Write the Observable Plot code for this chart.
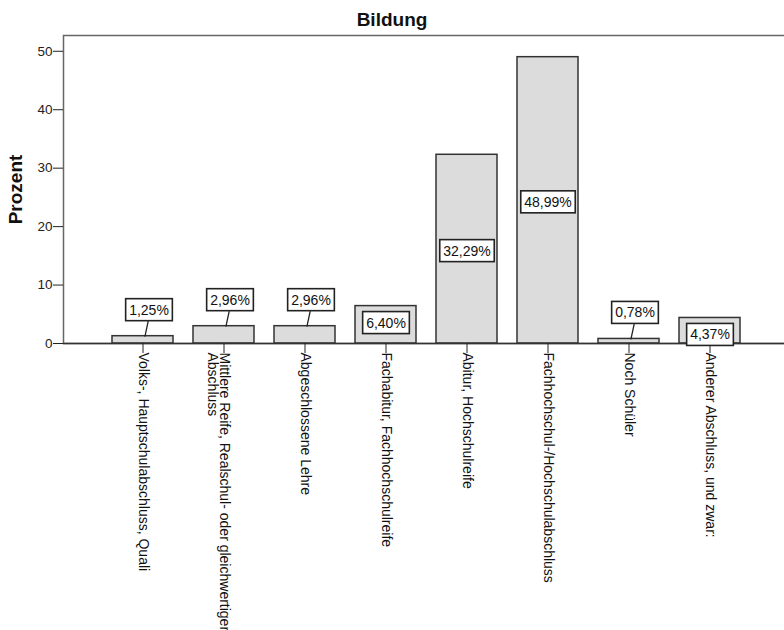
<!DOCTYPE html>
<html><head><meta charset="utf-8">
<script src="https://cdn.jsdelivr.net/npm/d3@7"></script>
<script src="https://cdn.jsdelivr.net/npm/@observablehq/plot@0.6"></script>
<style>
body{margin:0;background:#fff;font-family:"Liberation Sans",Arial,sans-serif;}
#title{width:784px;height:33px;box-sizing:border-box;padding-top:10px;font-size:19px;font-weight:bold;line-height:1;text-align:center;color:#111;}
</style></head><body>
<div id="title"></div>
<div id="chart"></div>
<script>
const chartTitle = "Bildung";
const yTitle = "Prozent";
const categories = [
  "Volks-, Hauptschulabschluss, Quali",
  "Mittlere Reife, Realschul- oder gleichwertiger Abschluss",
  "Abgeschlossene Lehre",
  "Fachabitur, Fachhochschulreife",
  "Abitur, Hochschulreife",
  "Fachhochschul-/Hochschulabschluss",
  "Noch Schüler",
  "Anderer Abschluss, und zwar:"
];
const percents = [1.25, 2.96, 2.96, 6.40, 32.29, 48.99, 0.78, 4.37];
const yTicks = [0, 10, 20, 30, 40, 50];

document.getElementById("title").textContent = chartTitle;

function wrap(s, max = 46) {
  const words = s.split(" ");
  const lines = [];
  let cur = "";
  for (const w of words) {
    if (cur && (cur + " " + w).length > max) { lines.push(cur); cur = w; }
    else cur = cur ? cur + " " + w : w;
  }
  lines.push(cur);
  return lines;
}

const data = categories.map((c, i) => ({
  cat: c,
  val: percents[i],
  label: percents[i].toFixed(2).replace(".", ",") + "%",
  lines: wrap(c)
}));
const large = data.filter(d => d.val >= 10);
const mid = data.filter(d => d.val >= 4 && d.val < 10);
const small = data.filter(d => d.val < 4);
const multi = data.filter(d => d.lines.length > 1);
const labelSet = new Set(data.map(d => d.label));

const font = "'Liberation Sans', Arial, sans-serif";
const leader = {draw(ctx, l) { ctx.moveTo(0, 0); ctx.lineTo(0, -l); }};

const svg = Plot.plot({
  width: 784,
  height: 597,
  marginTop: 2,
  marginLeft: 63,
  marginRight: 0,
  marginBottom: 287,
  style: {fontFamily: font, fontSize: "14px", color: "#222", background: "white"},
  x: {domain: categories, paddingInner: 0.25, paddingOuter: 0.54, align: 0.53},
  y: {domain: [0, 52.7]},
  marks: [
    Plot.frame({stroke: "#666", strokeWidth: 1.5, insetRight: -4}),
    Plot.barY(data, {x: "cat", y: "val", fill: "#dcdcdc", stroke: "#333", strokeWidth: 1.5}),
    Plot.ruleY([0], {stroke: "#333", strokeWidth: 1.5}),
    Plot.axisY({ticks: yTicks, tickSize: 10, tickPadding: 1, fontSize: 13.5, label: null}),
    Plot.axisX({tickSize: 10, tickFormat: () => "", label: null}),
    Plot.text(data, {x: "cat", frameAnchor: "bottom", text: d => d.lines[0], rotate: 90,
      textAnchor: "start", lineAnchor: "middle", dy: 9, fontSize: 14, fill: "#111"}),
    Plot.text(multi, {x: "cat", frameAnchor: "bottom", text: d => d.lines.slice(1).join("\n"), rotate: 90,
      textAnchor: "start", lineAnchor: "middle", dy: 9, dx: -12, fontSize: 14, fill: "#111"}),
    Plot.text([yTitle], {frameAnchor: "left", text: d => d, rotate: -90, dx: -47.5,
      textAnchor: "middle", lineAnchor: "middle", fontSize: 19, fontWeight: "bold", fill: "#111"}),
    Plot.vector(small, {x: "cat", y: "val", length: 15, rotate: 12, anchor: "start", dx: 2,
      shape: leader, stroke: "#222", strokeWidth: 1.3}),
    Plot.text(large, {x: "cat", y: d => d.val / 2, text: "label", dy: 2, fontSize: 14, fill: "#111"}),
    Plot.text(mid, {x: "cat", y: "val", text: "label", dy: 17, fontSize: 14, fill: "#111"}),
    Plot.text(small, {x: "cat", y: "val", text: "label", dy: -26, dx: 6, fontSize: 14, fill: "#111"})
  ]
});
document.getElementById("chart").append(svg);

svg.querySelectorAll("text").forEach(t => {
  if (!labelSet.has(t.textContent)) return;
  const b = t.getBBox();
  const r = document.createElementNS("http://www.w3.org/2000/svg", "rect");
  r.setAttribute("x", b.x - 3.5);
  r.setAttribute("y", b.y - 3);
  r.setAttribute("width", b.width + 7);
  r.setAttribute("height", b.height + 6);
  r.setAttribute("fill", "white");
  r.setAttribute("stroke", "#222");
  r.setAttribute("stroke-width", 1.6);
  const tr = t.getAttribute("transform");
  if (tr) r.setAttribute("transform", tr);
  t.parentNode.insertBefore(r, t);
});
</script>
</body></html>
